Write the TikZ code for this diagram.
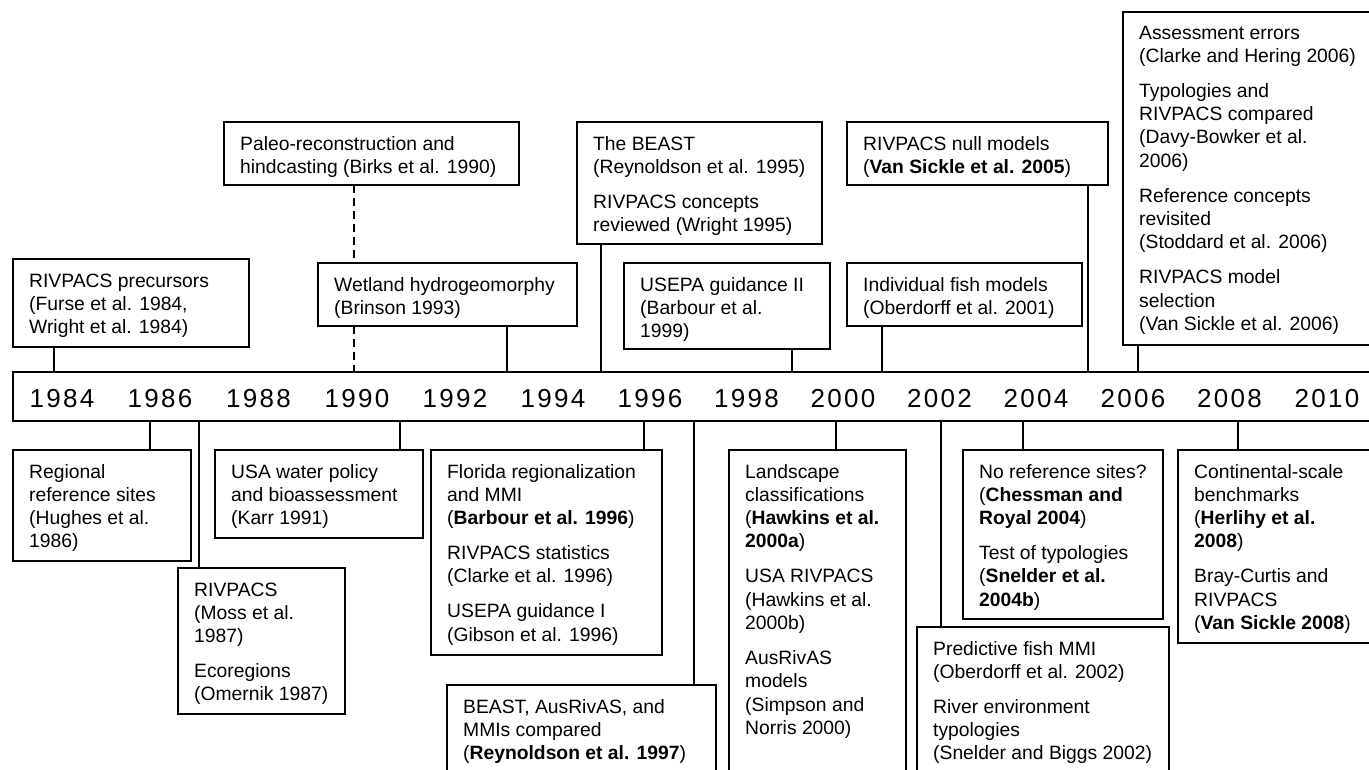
\documentclass[tikz,border=0pt]{standalone}
\usepackage{fontspec}
\setmainfont{Liberation Sans}
\newfontfamily\yearfont[LetterSpace=9]{Liberation Sans}
\usetikzlibrary{calc}
\newcommand\boxtxt[1]{\parbox[t]{400pt}{\raggedright\fontsize{19.3}{23.3}\selectfont #1}}
\newcommand\gp{\\[11.7pt]}
\begin{document}
\begin{tikzpicture}[x=1pt,y=1pt,
  box/.style={draw, line width=1.5pt, fill=white, anchor=north west, inner sep=0pt, outer sep=0pt},
  txt/.style={anchor=base west, inner sep=0pt},
  link/.style={line width=1.5pt},
  dlink/.style={line width=1.5pt, dash pattern=on 8pt off 5pt},
  yr/.style={font=\yearfont\fontsize{26}{30}\selectfont, inner sep=0pt, anchor=base}]
\useasboundingbox (0,0) rectangle (1369,-769);
\clip (0,0) rectangle (1369,-769);

% timeline bar
\node[box, minimum width=1375pt, minimum height=49pt] (bar) at (13,-372) {};
\node[yr] (y1984) at (62,-407) {1984};
\node[yr] (y1986) at (160,-407) {1986};
\node[yr] (y1988) at (258.5,-407) {1988};
\node[yr] (y1990) at (357,-407) {1990};
\node[yr] (y1992) at (455,-407) {1992};
\node[yr] (y1994) at (553,-407) {1994};
\node[yr] (y1996) at (650,-407) {1996};
\node[yr] (y1998) at (746.5,-407) {1998};
\node[yr] (y2000) at (843,-407) {2000};
\node[yr] (y2002) at (939.5,-407) {2002};
\node[yr] (y2004) at (1036,-407) {2004};
\node[yr] (y2006) at (1133,-407) {2006};
\node[yr] (y2008) at (1229.5,-407) {2008};
\node[yr] (y2010) at (1327,-407) {2010};

% ---------- upper boxes ----------
\node[box, minimum width=236pt, minimum height=88pt] (prec) at (13,-259) {};
\node[txt] (prec-t) at (29,-287) {\boxtxt{RIVPACS precursors\\(Furse et al. 1984,\\Wright et al. 1984)}};

\node[box, minimum width=295pt, minimum height=63pt] (paleo) at (224,-122) {};
\node[txt] (paleo-t) at (240,-150) {\boxtxt{Paleo-reconstruction and\\hindcasting (Birks et al. 1990)}};

\node[box, minimum width=259pt, minimum height=63pt] (wet) at (318,-263) {};
\node[txt] (wet-t) at (334,-291) {\boxtxt{Wetland hydrogeomorphy\\(Brinson 1993)}};

\node[box, minimum width=245pt, minimum height=122pt] (beast) at (577,-122) {};
\node[txt] (beast-t) at (593,-150) {\boxtxt{The BEAST\\(Reynoldson et al. 1995)\gp RIVPACS concepts\\reviewed (Wright 1995)}};

\node[box, minimum width=206pt, minimum height=86pt] (usepa) at (624,-263) {};
\node[txt] (usepa-t) at (640,-291) {\boxtxt{USEPA guidance II\\(Barbour et al.\\1999)}};

\node[box, minimum width=261pt, minimum height=63pt] (null) at (847,-122) {};
\node[txt] (null-t) at (863,-150) {\boxtxt{RIVPACS null models\\(\textbf{Van Sickle et al. 2005})}};

\node[box, minimum width=235pt, minimum height=63pt] (fish) at (847,-263) {};
\node[txt] (fish-t) at (863,-291) {\boxtxt{Individual fish models\\(Oberdorff et al. 2001)}};

\node[box, minimum width=260pt, minimum height=333pt] (b2006) at (1123,-12) {};
\node[txt] (b2006-t) at (1139,-39) {\boxtxt{Assessment errors\\(Clarke and Hering 2006)\gp Typologies and\\RIVPACS compared\\(Davy-Bowker et al.\\2006)\gp Reference concepts\\revisited\\(Stoddard et al. 2006)\gp RIVPACS model\\selection\\(Van Sickle et al. 2006)}};

% ---------- lower boxes ----------
\node[box, minimum width=178pt, minimum height=111pt] (reg) at (13,-450) {};
\node[txt] (reg-t) at (29,-478) {\boxtxt{Regional\\reference sites\\(Hughes et al.\\1986)}};

\node[box, minimum width=167pt, minimum height=146pt] (moss) at (178,-568) {};
\node[txt] (moss-t) at (194,-596) {\boxtxt{RIVPACS\\(Moss et al.\\1987)\gp Ecoregions\\(Omernik 1987)}};

\node[box, minimum width=208pt, minimum height=88pt] (usa) at (215,-450) {};
\node[txt] (usa-t) at (231,-478) {\boxtxt{USA water policy\\and bioassessment\\(Karr 1991)}};

\node[box, minimum width=231pt, minimum height=205pt] (flo) at (431,-450) {};
\node[txt] (flo-t) at (447,-478) {\boxtxt{Florida regionalization\\and MMI\\(\textbf{Barbour et al. 1996})\gp RIVPACS statistics\\(Clarke et al. 1996)\gp USEPA guidance I\\(Gibson et al. 1996)}};

\node[box, minimum width=269pt, minimum height=100pt] (b97) at (447,-685) {};
\node[txt] (b97-t) at (463,-713) {\boxtxt{BEAST, AusRivAS, and\\MMIs compared\\(\textbf{Reynoldson et al. 1997})}};

\node[box, minimum width=177pt, minimum height=340pt] (land) at (729,-450) {};
\node[txt] (land-t) at (745,-478) {\boxtxt{Landscape\\classifications\\(\textbf{Hawkins et al.}\\\textbf{2000a})\gp USA RIVPACS\\(Hawkins et al.\\2000b)\gp AusRivAS\\models\\(Simpson and\\Norris 2000)}};

\node[box, minimum width=252pt, minimum height=160pt] (pred) at (917,-627) {};
\node[txt] (pred-t) at (933,-655) {\boxtxt{Predictive fish MMI\\(Oberdorff et al. 2002)\gp River environment\\typologies\\(Snelder and Biggs 2002)}};

\node[box, minimum width=200pt, minimum height=169pt] (noref) at (963,-450) {};
\node[txt] (noref-t) at (979,-478) {\boxtxt{No reference sites?\\(\textbf{Chessman and}\\\textbf{Royal 2004})\gp Test of typologies\\(\textbf{Snelder et al.}\\\textbf{2004b})}};

\node[box, minimum width=205pt, minimum height=193pt] (cont) at (1178,-450) {};
\node[txt] (cont-t) at (1194,-478) {\boxtxt{Continental-scale\\benchmarks\\(\textbf{Herlihy et al.}\\\textbf{2008})\gp Bray-Curtis and\\RIVPACS\\(\textbf{Van Sickle 2008})}};

% ---------- connectors (upper) ----------
\draw[link] (54,0 |- prec.south) -- (54,0 |- bar.north);
\draw[dlink] (354,0 |- paleo.south) -- (354,0 |- wet.north);
\draw[dlink] (354,0 |- wet.south) -- (354,0 |- bar.north);
\draw[link] (507,0 |- wet.south) -- (507,0 |- bar.north);
\draw[link] (601,0 |- beast.south) -- (601,0 |- bar.north);
\draw[link] (792,0 |- usepa.south) -- (792,0 |- bar.north);
\draw[link] (882,0 |- fish.south) -- (882,0 |- bar.north);
\draw[link] (1088,0 |- null.south) -- (1088,0 |- bar.north);
\draw[link] (1138,0 |- b2006.south) -- (1138,0 |- bar.north);

% ---------- connectors (lower) ----------
\draw[link] (150,0 |- bar.south) -- (150,0 |- reg.north);
\draw[link] (199,0 |- bar.south) -- (199,0 |- moss.north);
\draw[link] (400,0 |- bar.south) -- (400,0 |- usa.north);
\draw[link] (644,0 |- bar.south) -- (644,0 |- flo.north);
\draw[link] (694,0 |- bar.south) -- (694,0 |- b97.north);
\draw[link] (836,0 |- bar.south) -- (836,0 |- land.north);
\draw[link] (941,0 |- bar.south) -- (941,0 |- pred.north);
\draw[link] (1023,0 |- bar.south) -- (1023,0 |- noref.north);
\draw[link] (1238,0 |- bar.south) -- (1238,0 |- cont.north);
\end{tikzpicture}
\end{document}
